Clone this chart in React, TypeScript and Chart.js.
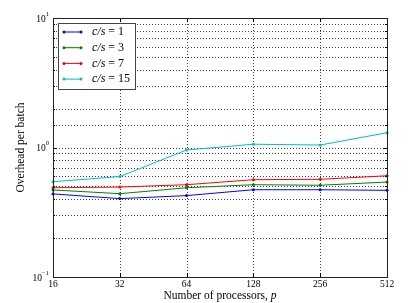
import { useEffect, useRef } from 'react';
import { Chart, registerables } from 'chart.js';

Chart.register(...registerables);

// Processor counts on the x axis
const processors = ['16', '32', '64', '128', '256', '512'];

// Overhead per batch for each c/s ratio
const overheadCs1 = [0.438, 0.403, 0.425, 0.472, 0.472, 0.467];
const overheadCs3 = [0.47, 0.44, 0.489, 0.516, 0.511, 0.541];
const overheadCs7 = [0.489, 0.495, 0.516, 0.564, 0.568, 0.605];
const overheadCs15 = [0.544, 0.596, 0.957, 1.06, 1.045, 1.3];

const ratioLabels = ['1', '3', '7', '15'];
const seriesColors = ['#0000ff', '#008000', '#ff0000', '#00bfbf'];

const yMin = 0.1;
const yMax = 10;

const xTitle = 'Number of processors, ';
const xTitleVar = 'p';
const yTitle = 'Overhead per batch';

const SERIF = '"Liberation Serif", "DejaVu Serif", serif';

const isPowerOfTen = (v: number) => {
  const l = Math.log10(v);
  return Math.abs(l - Math.round(l)) < 1e-9;
};

// dotted grid behind the lines
const dottedGrid = {
  id: 'dottedGrid',
  beforeDatasetsDraw(chart: any) {
    const { ctx, chartArea } = chart;
    const { left, top, right, bottom } = chartArea;
    const xs = chart.scales.x;
    const ys = chart.scales.y;
    ctx.save();
    ctx.strokeStyle = 'rgba(0,0,0,0.75)';
    ctx.lineWidth = 1;
    ctx.setLineDash([1, 2]);
    ctx.beginPath();
    ys.ticks.forEach((t: any) => {
      const y = Math.round(ys.getPixelForValue(t.value)) + 0.5;
      ctx.moveTo(left, y);
      ctx.lineTo(right, y);
    });
    processors.forEach((_, i) => {
      const x = Math.round(xs.getPixelForTick(i)) + 0.5;
      ctx.moveTo(x, top);
      ctx.lineTo(x, bottom);
    });
    ctx.stroke();
    ctx.restore();
  },
};

const decorations = {
  id: 'decorations',
  afterDraw(chart: any) {
    const { ctx, chartArea } = chart;
    const { left, top, right, bottom } = chartArea;
    const xs = chart.scales.x;
    const ys = chart.scales.y;
    ctx.save();

    // tick marks pointing inward
    ctx.strokeStyle = '#000';
    ctx.lineWidth = 1;
    ctx.beginPath();
    ys.ticks.forEach((t: any) => {
      const y = Math.round(ys.getPixelForValue(t.value)) + 0.5;
      const len = isPowerOfTen(t.value) ? 4 : 2;
      ctx.moveTo(left, y);
      ctx.lineTo(left + len, y);
      ctx.moveTo(right, y);
      ctx.lineTo(right - len, y);
    });
    processors.forEach((_, i) => {
      const x = Math.round(xs.getPixelForTick(i)) + 0.5;
      ctx.moveTo(x, bottom);
      ctx.lineTo(x, bottom - 4);
      ctx.moveTo(x, top);
      ctx.lineTo(x, top + 4);
    });
    ctx.stroke();

    // axes frame
    ctx.strokeStyle = '#222';
    ctx.lineWidth = 1;
    ctx.strokeRect(Math.round(left) + 0.5, Math.round(top) + 0.5, Math.round(right - left), Math.round(bottom - top));

    // y tick labels: 10 with a raised exponent
    ctx.fillStyle = '#000';
    ctx.textBaseline = 'middle';
    ys.ticks.forEach((t: any) => {
      if (!isPowerOfTen(t.value)) return;
      const exp = Math.round(Math.log10(t.value));
      const expText = exp < 0 ? '\u2212' + Math.abs(exp) : String(exp);
      const y = ys.getPixelForValue(t.value);
      ctx.font = `6.5px ${SERIF}`;
      const ew = ctx.measureText(expText).width;
      ctx.textAlign = 'left';
      const xr = left - 4;
      ctx.fillText(expText, xr - ew, y - 4);
      ctx.font = `9.5px ${SERIF}`;
      ctx.textAlign = 'right';
      ctx.fillText('10', xr - ew, y + 1);
    });

    // x tick labels
    ctx.font = `9.5px ${SERIF}`;
    ctx.textAlign = 'center';
    ctx.textBaseline = 'top';
    processors.forEach((label, i) => {
      ctx.fillText(label, xs.getPixelForTick(i), bottom + 3);
    });

    // x axis title with italic variable
    ctx.font = `11.5px ${SERIF}`;
    const w1 = ctx.measureText(xTitle).width;
    ctx.font = `italic 11.5px ${SERIF}`;
    const w2 = ctx.measureText(xTitleVar).width;
    const cx = (left + right) / 2;
    const x0 = cx - (w1 + w2) / 2;
    ctx.textAlign = 'left';
    ctx.textBaseline = 'alphabetic';
    ctx.font = `11.5px ${SERIF}`;
    ctx.fillText(xTitle, x0, 299);
    ctx.font = `italic 11.5px ${SERIF}`;
    ctx.fillText(xTitleVar, x0 + w1, 299);

    // y axis title
    ctx.save();
    ctx.translate(24, (top + bottom) / 2);
    ctx.rotate(-Math.PI / 2);
    ctx.font = `11.5px ${SERIF}`;
    ctx.textAlign = 'center';
    ctx.textBaseline = 'alphabetic';
    ctx.fillText(yTitle, 0, 0);
    ctx.restore();

    // legend
    const lx = Math.round(left) + 5;
    const ly = Math.round(top) + 5;
    ctx.fillStyle = '#fff';
    ctx.fillRect(lx, ly, 77, 66);
    ctx.strokeStyle = '#444';
    ctx.strokeRect(lx + 0.5, ly + 0.5, 77, 66);
    ratioLabels.forEach((r, i) => {
      const y = ly + 9 + i * 15.7;
      const color = seriesColors[i];
      ctx.strokeStyle = color;
      ctx.lineWidth = 1;
      ctx.beginPath();
      ctx.moveTo(lx + 6, y);
      ctx.lineTo(lx + 23, y);
      ctx.stroke();
      ctx.fillStyle = color;
      [lx + 6, lx + 23].forEach((px) => {
        ctx.beginPath();
        ctx.arc(px, y, 1.5, 0, Math.PI * 2);
        ctx.fill();
      });
      ctx.fillStyle = '#000';
      ctx.textBaseline = 'middle';
      ctx.textAlign = 'left';
      ctx.font = `italic 12px ${SERIF}`;
      const a = 'c/s';
      ctx.fillText(a, lx + 34, y);
      const aw = ctx.measureText(a).width;
      ctx.font = `12px ${SERIF}`;
      ctx.fillText(' = ' + r, lx + 34 + aw, y);
    });

    ctx.restore();
  },
};

export default function App() {
  const canvasRef = useRef<HTMLCanvasElement>(null);

  useEffect(() => {
    const canvas = canvasRef.current;
    if (!canvas) return;
    const seriesValues = [overheadCs1, overheadCs3, overheadCs7, overheadCs15];
    const chart = new Chart(canvas, {
      type: 'line',
      data: {
        labels: processors,
        datasets: seriesValues.map((values, i) => ({
          label: `c/s = ${ratioLabels[i]}`,
          data: values,
          borderColor: seriesColors[i],
          backgroundColor: seriesColors[i],
          borderWidth: 1,
          pointRadius: 1.5,
          pointBorderWidth: 0,
          pointBackgroundColor: seriesColors[i],
          tension: 0,
          fill: false,
        })),
      },
      options: {
        responsive: false,
        animation: false,
        layout: { padding: { top: 18, right: 31, left: 0, bottom: 0 } },
        plugins: {
          legend: { display: false },
          tooltip: { enabled: false },
        },
        scales: {
          x: {
            type: 'category',
            offset: false,
            grid: { display: false },
            border: { display: false },
            ticks: { display: false },
            afterFit: (scale: any) => {
              scale.height = 26;
            },
          },
          y: {
            type: 'logarithmic',
            min: yMin,
            max: yMax,
            grid: { display: false },
            border: { display: false },
            ticks: { display: false, autoSkip: false },
            afterFit: (scale: any) => {
              scale.width = 53;
            },
          },
        },
      },
      plugins: [dottedGrid, decorations],
    });
    return () => chart.destroy();
  }, []);

  return (
    <div style={{ position: 'fixed', left: 0, top: 0, width: 418, height: 303, background: '#fff' }}>
      <canvas ref={canvasRef} width={418} height={303} />
    </div>
  );
}
